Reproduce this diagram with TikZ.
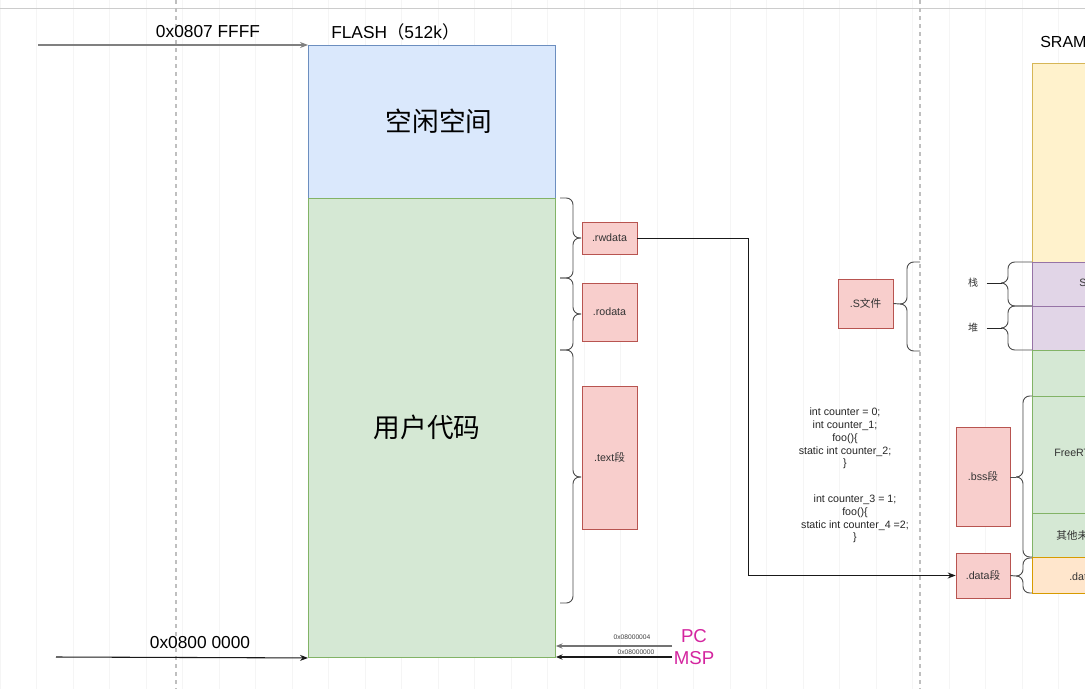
\documentclass[tikz,border=0pt]{standalone}
\usepackage{fontspec}
\setmainfont{Liberation Sans}
\newfontfamily\cjk{Noto Sans CJK SC}
\usetikzlibrary{arrows.meta,calc}

\definecolor{blueFill}{HTML}{DAE8FC}\definecolor{blueLine}{HTML}{6C8EBF}
\definecolor{greenFill}{HTML}{D5E8D4}\definecolor{greenLine}{HTML}{82B366}
\definecolor{redFill}{HTML}{F8CECC}\definecolor{redLine}{HTML}{B85450}
\definecolor{yellowFill}{HTML}{FFF2CC}\definecolor{yellowLine}{HTML}{D6B656}
\definecolor{purpleFill}{HTML}{E1D5E7}\definecolor{purpleLine}{HTML}{9673A6}
\definecolor{orangeFill}{HTML}{FFE6CC}\definecolor{orangeLine}{HTML}{D79B00}
\definecolor{regColor}{HTML}{D4259F}

% curly bracket: x of the ends, x of the spine, x of the tip, top y, middle y, bottom y
\newcommand\mybrace[6]{%
  \draw[bracket] (#1,#4) -- (#2,#4) -- (#2,#5) -- (#3,#5);
  \draw[bracket] (#3,#5) -- (#2,#5) -- (#2,#6) -- (#1,#6);
}

\tikzset{
  bracket/.style={draw=black!70, line width=0.7pt, rounded corners=5},
  segbox/.style={draw=redLine, fill=redFill, line width=0.5pt, inner sep=0pt,
    font=\fontsize{8}{9}\selectfont, text=black!80},
  mem/.style={line width=0.7pt},
  addrarrow/.style={line width=0.8pt, -{Stealth[length=6pt,width=4.5pt]}},
  smallarrow/.style={line width=0.8pt, -{Stealth[length=5pt,width=4pt]}},
  codetext/.style={align=center, font=\fontsize{8}{9.6}\selectfont, text=black!85},
  sramtext/.style={anchor=west, inner sep=0pt, font=\fontsize{8}{9}\selectfont, text=black!80},
}

\begin{document}
\begin{tikzpicture}[x=0.75pt,y=-0.75pt]
\useasboundingbox (0,0) rectangle (1085,689);
\clip (0,0) rectangle (1085,689);
\fill[white] (0,0) rectangle (1085,689);

% background grid and guides
\draw[black!4, line width=0.5pt, step=36.5] (0,0) grid (1085,689);
\draw[black!20, line width=0.6pt] (0,8) -- (1085,8);
\draw[black!25, dashed, line width=0.8pt] (176,0) -- (176,689);
\draw[black!25, dashed, line width=0.8pt] (920,0) -- (920,689);

% FLASH column
\node[mem, draw=blueLine, fill=blueFill, minimum width=247*0.75pt, minimum height=153*0.75pt,
  anchor=north west, inner sep=0pt] (free) at (308,45) {};
\node[mem, draw=greenLine, fill=greenFill, minimum width=247*0.75pt, minimum height=459*0.75pt,
  anchor=north west, inner sep=0pt] (user) at (308,198) {};
\node[font=\cjk\fontsize{20}{24}\selectfont] (freetxt) at (439,121) {空闲空间};
\node[font=\cjk\fontsize{20}{24}\selectfont] (usertxt) at (427,427) {用户代码};
\node[anchor=west, inner sep=0pt, font=\fontsize{13}{15}\selectfont] (flashlbl) at (331,32) {FLASH{\cjk（}512k{\cjk）}};

% address arrows
\coordinate (topstart) at (38,45);
\coordinate (botstart) at (56,657);
\draw[addrarrow, draw=black!50] (topstart) -- (free.north west);
\draw[addrarrow, draw=black!90] (botstart) -- (user.south west);
\node[font=\fontsize{13}{15}\selectfont] (toplbl) at (208,32) {0x0807 FFFF};
\node[font=\fontsize{13}{15}\selectfont] (botlbl) at (200,643) {0x0800 0000};

% PC / MSP
\coordinate (pcstart) at (672,646);
\coordinate (mspstart) at (672,657);
\draw[smallarrow, draw=black!55] (pcstart) -- (user.east |- pcstart);
\draw[smallarrow, draw=black!90] (mspstart) -- (user.east |- mspstart);
\node[font=\fontsize{5}{6}\selectfont, text=black!75] (pcaddr) at (632,637) {0x08000004};
\node[font=\fontsize{5}{6}\selectfont, text=black!75] (mspaddr) at (636,652) {0x08000000};
\node[font=\fontsize{14}{16}\selectfont, text=regColor] (pc) at (694,636) {PC};
\node[font=\fontsize{14}{16}\selectfont, text=regColor] (msp) at (694,658) {MSP};

% FLASH sections
\node[segbox, minimum width=55*0.75pt, minimum height=32*0.75pt] (rw) at (609.5,238) {.rwdata};
\node[segbox, minimum width=55*0.75pt, minimum height=58*0.75pt] (ro) at (609.5,312) {.rodata};
\node[segbox, minimum width=55*0.75pt, minimum height=143*0.75pt] (text) at (609.5,457.5) {.text{\cjk 段}};
\mybrace{560}{573}{581}{198}{238}{278}
\mybrace{560}{573}{581}{278}{314}{350}
\mybrace{560}{573}{581}{350}{477}{603}

% startup file
\node[segbox, minimum width=55*0.75pt, minimum height=49*0.75pt] (sfile) at (865.5,303.5) {.S{\cjk 文件}};
\mybrace{920}{907}{900}{262}{304}{351}
\coordinate (stip) at (900,304);
\draw[black!70, line width=0.7pt] (sfile.east) -- (stip);

% variable examples
\node[codetext] (code1) at (845,438.5) {int counter = 0;\\int counter\_1;\\foo()\{\\static int counter\_2;\\\}};
\node[codetext] (code2) at (855,519) {int counter\_3 = 1;\\foo()\{\\static int counter\_4 =2;\\\}};

% data / bss sections
\node[segbox, minimum width=54*0.75pt, minimum height=99*0.75pt] (bss) at (983,476.5) {.bss{\cjk 段}};
\node[segbox, minimum width=54*0.75pt, minimum height=45*0.75pt] (dseg) at (983,575.5) {.data{\cjk 段}};
\coordinate (bend) at (748,238);
\draw[addrarrow, draw=black!90, line width=0.7pt] (rw.east) -- (bend) |- (dseg.west);

% SRAM column
\node[anchor=west, inner sep=0pt, font=\fontsize{12}{14}\selectfont] (sramlbl) at (1040,42) {SRAM};
\node[mem, draw=yellowLine, fill=yellowFill, minimum width=120*0.75pt, minimum height=199*0.75pt,
  anchor=north west, inner sep=0pt] (sramfree) at (1032,63) {};
\node[mem, draw=purpleLine, fill=purpleFill, minimum width=120*0.75pt, minimum height=44*0.75pt,
  anchor=north west, inner sep=0pt] (stack) at (1032,262) {};
\node[mem, draw=purpleLine, fill=purpleFill, minimum width=120*0.75pt, minimum height=44*0.75pt,
  anchor=north west, inner sep=0pt] (heap) at (1032,306) {};
\node[mem, draw=greenLine, fill=greenFill, minimum width=120*0.75pt, minimum height=46*0.75pt,
  anchor=north west, inner sep=0pt] (gap) at (1032,350) {};
\node[mem, draw=greenLine, fill=greenFill, minimum width=120*0.75pt, minimum height=117*0.75pt,
  anchor=north west, inner sep=0pt] (rtos) at (1032,396) {};
\node[mem, draw=greenLine, fill=greenFill, minimum width=120*0.75pt, minimum height=44*0.75pt,
  anchor=north west, inner sep=0pt] (unused) at (1032,513) {};
\node[mem, draw=orangeLine, fill=orangeFill, minimum width=120*0.75pt, minimum height=36*0.75pt,
  anchor=north west, inner sep=0pt] (sramdata) at (1032,557) {};
\node[sramtext] (stacktxt) at (1079,283) {Stack};
\node[sramtext] (rtostxt) at (1054,453) {FreeRTOS};
\node[sramtext, font=\cjk\fontsize{8}{9}\selectfont] (unusedtxt) at (1056,535) {其他未使用};
\node[sramtext] (sdatatxt) at (1069,576) {.data{\cjk 段}};

% stack / heap labels
\node[font=\cjk\fontsize{7.5}{9}\selectfont, text=black!80] (zhan) at (973,283) {栈};
\node[font=\cjk\fontsize{7.5}{9}\selectfont, text=black!80] (dui) at (973,328) {堆};
\mybrace{1032}{1008}{1002}{262}{283}{306}
\mybrace{1032}{1008}{1002}{306}{328}{350}
\coordinate (zhantip) at (1002,283);
\coordinate (duitip) at (1002,328);
\draw[black!85, line width=0.7pt] (zhan.east) ++(4,0) -- (zhantip);
\draw[black!85, line width=0.7pt] (dui.east) ++(4,0) -- (duitip);

% braces towards the variable sections
\mybrace{1032}{1023}{1016}{396}{477}{557}
\mybrace{1032}{1023}{1016}{558}{576}{593}
\coordinate (bsstip) at (1016,477);
\coordinate (datatip) at (1016,576);
\draw[black!70, line width=0.7pt] (bss.east |- bsstip) -- (bsstip);
\draw[black!70, line width=0.7pt] (dseg.east) -- (datatip);
\end{tikzpicture}
\end{document}
